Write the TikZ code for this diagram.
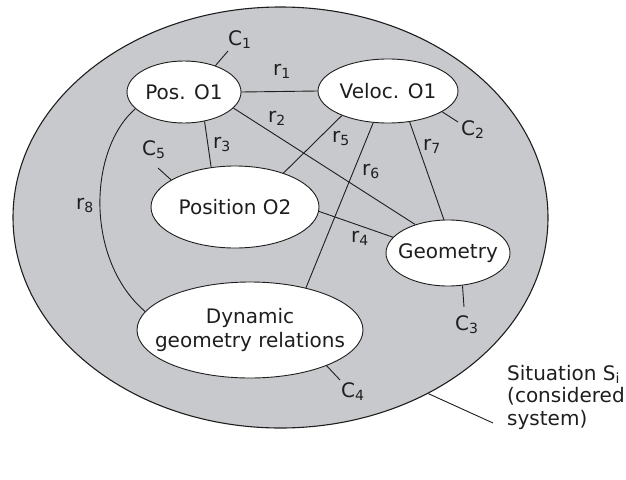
\documentclass[tikz,border=0pt]{standalone}
\usepackage{fontspec}
\setmainfont{DejaVu Sans}
\usetikzlibrary{shapes.geometric}
\definecolor{sitgray}{RGB}{200,201,204}
\definecolor{ink}{RGB}{30,30,30}
\begin{document}
\begin{tikzpicture}[x=1pt,y=-1pt,
  every node/.style={font=\fontsize{20}{24}\selectfont, text=ink},
  ell/.style={ellipse, draw=ink, line width=0.9pt, fill=white, inner sep=0pt},
  link/.style={draw=ink, line width=0.9pt},
  lab/.style={anchor=base west, inner sep=0pt}]
\useasboundingbox (0,0) rectangle (626,479);
% system ellipse
\node[ellipse, draw=ink, line width=1.1pt, fill=sitgray, inner sep=0pt,
      minimum width=535, minimum height=421] (sit) at (280.5,217.5) {};
% element ellipses
\node[ell, minimum width=114, minimum height=62, label={center:Pos. O1}] (pos) at (184,92) {};
\node[ell, minimum width=140, minimum height=64, label={center:Veloc. O1}] (vel) at (388,91) {};
\node[ell, minimum width=168, minimum height=82, label={center:Position O2}] (pos2) at (235,207) {};
\node[ell, minimum width=124, minimum height=66, label={center:Geometry}] (geo) at (448,253) {};
\node[ell, minimum width=226, minimum height=96,
      label={[align=center]center:Dynamic\\geometry relations}] (dyn) at (250,330) {};
% relations
\draw[link] (pos.0) -- (vel.180);
\draw[link] (pos.-18) -- (geo.139.7);
\draw[link] (pos.-55) -- (pos2.121.6);
\draw[link] (vel.208) -- (pos2.35);
\draw[link] (vel.245) -- (dyn.37.5);
\draw[link] (vel.305) -- (geo.97);
\draw[link] (pos2.-3.4) -- (geo.164.7);
\draw[link] (pos.199) .. controls (88,150) and (85,260) .. (dyn.170.8);
% constraint stubs
\coordinate (c1e) at (228,51);
\coordinate (c2e) at (458,122);
\coordinate (c3e) at (464,307);
\coordinate (c4e) at (340,380);
\coordinate (c5e) at (158,168);
\coordinate (sie) at (493,423);
\draw[link] (pos.40) -- (c1e);
\draw[link] (vel.339) -- (c2e);
\draw[link] (geo.294) -- (c3e);
\draw[link] (dyn.335) -- (c4e);
\draw[link] (pos2.157.6) -- (c5e);
\draw[link] (sit.-50.3) -- (sie);
% labels
\node[lab] (lr1) at (273,75) {r\textsubscript{1}};
\node[lab] (lr2) at (268,122) {r\textsubscript{2}};
\node[lab] (lr3) at (213,148) {r\textsubscript{3}};
\node[lab] (lr4) at (351,242) {r\textsubscript{4}};
\node[lab] (lr5) at (332,142) {r\textsubscript{5}};
\node[lab] (lr6) at (362,175) {r\textsubscript{6}};
\node[lab] (lr7) at (423,150) {r\textsubscript{7}};
\node[lab] (lr8) at (76,209) {r\textsubscript{8}};
\node[lab] (lc1) at (228,45) {C\textsubscript{1}};
\node[lab] (lc2) at (461,135) {C\textsubscript{2}};
\node[lab] (lc3) at (455,330) {C\textsubscript{3}};
\node[lab] (lc4) at (341,397) {C\textsubscript{4}};
\node[lab] (lc5) at (142,155) {C\textsubscript{5}};
\node[lab, align=left, font=\fontsize{20}{22.5}\selectfont] (sitlab) at (507,425)
  {Situation S\textsubscript{i}\\(considered\\system)};
\end{tikzpicture}
\end{document}
